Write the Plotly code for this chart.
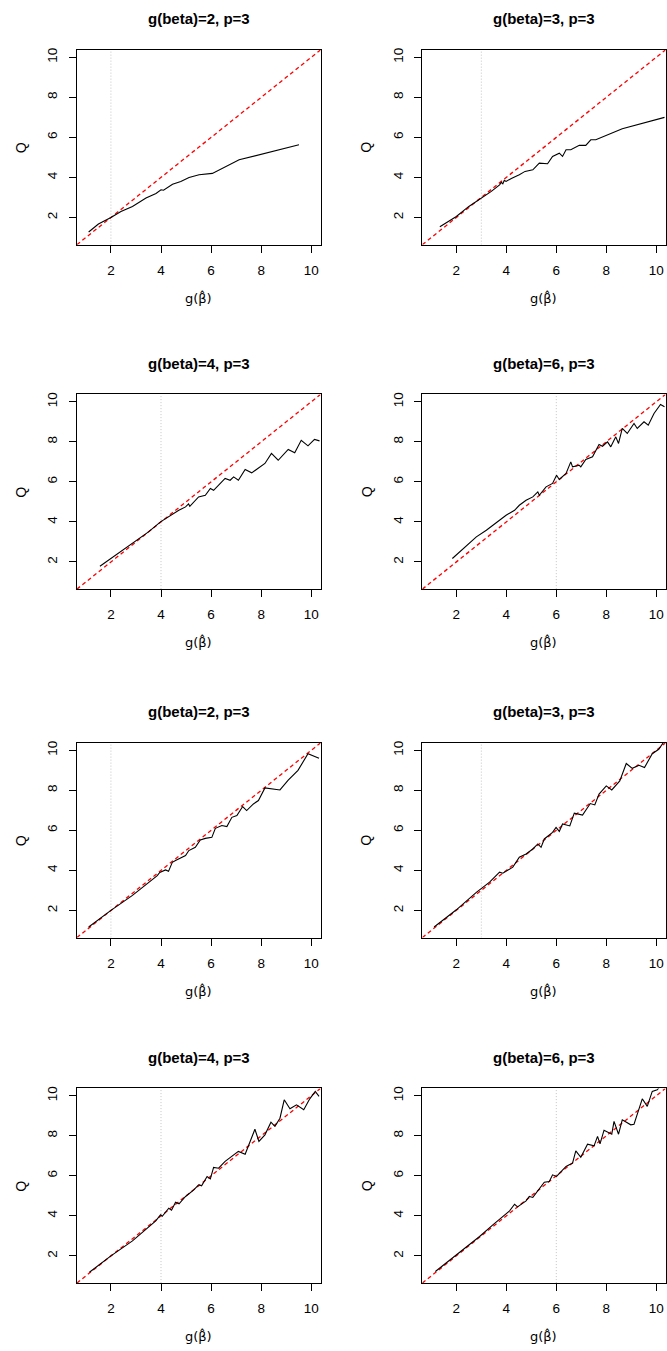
import plotly.graph_objects as go

# ---- data: estimated g(beta-hat) vs Q curves, one pair of arrays per panel ----
titles = ["g(beta)=2, p=3", "g(beta)=3, p=3", "g(beta)=4, p=3", "g(beta)=6, p=3",
          "g(beta)=2, p=3", "g(beta)=3, p=3", "g(beta)=4, p=3", "g(beta)=6, p=3"]
true_g = [2, 3, 4, 6, 2, 3, 4, 6]

x1 = [1.11, 1.5, 2.0, 2.4, 2.86, 3.4, 3.8, 3.95, 4.0, 4.1, 4.46, 4.79, 5.12, 5.52, 6.05, 7.12, 8.18, 9.51]
q1 = [1.27, 1.67, 2.0, 2.3, 2.55, 2.97, 3.2, 3.35, 3.38, 3.36, 3.66, 3.8, 4.0, 4.13, 4.2, 4.88, 5.21, 5.63]

x2 = [1.34, 2.0, 2.5, 3.0, 3.4, 3.73, 3.8, 3.86, 3.92, 3.99, 4.2, 4.52, 4.75, 5.06, 5.32, 5.65,
      5.85, 6.12, 6.25, 6.39, 6.58, 6.92, 7.18, 7.38, 7.58, 8.64, 10.33]
q2 = [1.53, 2.05, 2.55, 2.97, 3.3, 3.63, 3.75, 3.68, 3.85, 3.8, 3.95, 4.13, 4.3, 4.38, 4.71, 4.68,
      5.05, 5.21, 5.05, 5.38, 5.38, 5.6, 5.6, 5.88, 5.88, 6.43, 7.0]

x3 = [1.56, 2.0, 2.86, 3.5, 3.98, 4.4, 4.71, 4.98, 5.1, 5.15, 5.5, 5.77, 5.97, 6.1, 6.3, 6.56,
      6.76, 6.9, 7.09, 7.36, 7.62, 7.95, 8.15, 8.41, 8.68, 9.08, 9.34, 9.6, 9.87, 10.13, 10.33]
q3 = [1.78, 2.17, 2.92, 3.5, 4.0, 4.35, 4.58, 4.75, 4.9, 4.78, 5.25, 5.33, 5.67, 5.58, 5.83, 6.17,
      6.08, 6.25, 6.08, 6.62, 6.45, 6.75, 6.92, 7.42, 7.08, 7.62, 7.45, 8.08, 7.8, 8.12, 8.05]

x4 = [1.84, 2.4, 2.8, 3.2, 3.46, 3.73, 3.99, 4.33, 4.52, 4.79, 5.06, 5.26, 5.32, 5.59, 5.85,
      6.01, 6.12, 6.39, 6.58, 6.65, 6.92, 6.98, 7.18, 7.45, 7.71, 7.85, 8.05, 8.18, 8.38, 8.49,
      8.64, 8.84, 9.11, 9.24, 9.51, 9.68, 9.91, 10.17, 10.33]
q4 = [2.17, 2.83, 3.25, 3.58, 3.83, 4.08, 4.33, 4.58, 4.83, 5.08, 5.25, 5.5, 5.33, 5.75, 5.92,
      6.33, 6.12, 6.42, 7.0, 6.75, 6.83, 6.75, 7.12, 7.25, 7.87, 7.78, 8.0, 7.75, 8.25, 7.92,
      8.67, 8.42, 8.92, 8.67, 9.0, 8.83, 9.42, 9.87, 9.75]

x5 = [1.11, 2.0, 2.86, 3.52, 3.85, 3.95, 4.18, 4.3, 4.38, 4.45, 4.58, 4.98, 5.11, 5.37, 5.57,
      5.77, 6.03, 6.17, 6.43, 6.63, 6.83, 7.03, 7.26, 7.42, 7.69, 7.89, 8.15, 8.75, 9.08, 9.47,
      9.87, 10.31]
q5 = [1.17, 2.0, 2.75, 3.41, 3.74, 3.9, 4.02, 3.95, 4.24, 4.4, 4.49, 4.74, 4.99, 5.15, 5.52,
      5.6, 5.65, 6.1, 6.24, 6.19, 6.65, 6.74, 7.19, 6.99, 7.32, 7.49, 8.12, 8.02, 8.51, 9.0,
      9.83, 9.6]

x6 = [1.11, 2.0, 2.8, 3.33, 3.73, 3.86, 4.26, 4.52, 4.79, 5.06, 5.26, 5.39, 5.52, 5.85, 5.99,
      6.12, 6.25, 6.54, 6.72, 7.05, 7.36, 7.54, 7.71, 8.0, 8.22, 8.54, 8.8, 9.04, 9.31, 9.53,
      9.84, 10.1, 10.28]
q6 = [1.17, 2.03, 2.9, 3.41, 3.91, 3.86, 4.16, 4.66, 4.82, 5.07, 5.32, 5.15, 5.57, 5.9, 6.15,
      5.95, 6.32, 6.22, 6.86, 6.76, 7.34, 7.27, 7.81, 8.22, 8.02, 8.47, 9.34, 9.1, 9.25, 9.14,
      9.83, 10.05, 10.38]

x7 = [1.14, 2.0, 2.86, 3.39, 3.79, 3.98, 4.05, 4.31, 4.42, 4.58, 4.72, 4.98, 5.31, 5.5, 5.62,
      5.84, 5.97, 6.1, 6.3, 6.56, 6.76, 7.09, 7.36, 7.52, 7.75, 7.91, 8.15, 8.39, 8.55, 8.75,
      8.92, 9.15, 9.41, 9.7, 9.94, 10.16, 10.31]
q7 = [1.18, 2.0, 2.75, 3.3, 3.75, 4.05, 3.98, 4.38, 4.28, 4.68, 4.6, 4.97, 5.3, 5.55, 5.5,
      5.97, 5.85, 6.42, 6.38, 6.72, 6.92, 7.22, 7.08, 7.63, 8.33, 7.72, 8.05, 8.68, 8.47, 8.88,
      9.8, 9.35, 9.55, 9.3, 9.85, 10.22, 9.97]

x8 = [1.16, 2.0, 2.4, 2.93, 3.46, 3.86, 4.13, 4.33, 4.45, 4.79, 4.92, 5.06, 5.32, 5.52, 5.72,
      5.85, 6.01, 6.39, 6.52, 6.65, 6.78, 6.98, 7.25, 7.51, 7.65, 7.75, 7.91, 8.22, 8.31, 8.49,
      8.64, 8.98, 9.11, 9.44, 9.64, 9.84, 10.04, 10.15]
q8 = [1.22, 2.05, 2.47, 2.97, 3.55, 3.97, 4.25, 4.58, 4.45, 4.75, 4.97, 4.92, 5.38, 5.68, 5.72,
      6.05, 5.97, 6.47, 6.55, 6.63, 7.25, 6.93, 7.58, 7.5, 7.97, 7.6, 8.28, 8.08, 8.72, 8.08,
      8.8, 8.55, 8.58, 9.85, 9.47, 10.22, 10.3, 10.47]

xs = [x1, x2, x3, x4, x5, x6, x7, x8]
qs = [q1, q2, q3, q4, q5, q6, q7, q8]

tick_vals = [2, 4, 6, 8, 10]
axis_range = [0.64, 10.37]
x_label = "g(\u03b2\u0302)"   # g(beta-hat) with a combining circumflex

# ---- layout geometry (pixels) ----
W, H = 667, 1351
col_left = [77, 423]
col_right = [321, 666.5]
row_top = [48, 393, 742, 1088]
panel_h = 195

FONT = "Liberation Sans, Arial, Helvetica, sans-serif"
LABEL_FONT = "DejaVu Sans, Liberation Sans, sans-serif"

fig = go.Figure()
annotations = []

for i in range(8):
    r, c = divmod(i, 2)
    n = i + 1
    xa = "xaxis" if n == 1 else f"xaxis{n}"
    ya = "yaxis" if n == 1 else f"yaxis{n}"
    xr = "x" if n == 1 else f"x{n}"
    yr = "y" if n == 1 else f"y{n}"

    x0, x1p = col_left[c], col_right[c]
    y0, y1p = row_top[r], row_top[r] + panel_h

    common = dict(
        range=axis_range, showgrid=False, zeroline=False,
        showline=True, mirror=True, linecolor="black", linewidth=1,
        ticks="outside", ticklen=7, tickwidth=1, tickcolor="black",
        tickvals=tick_vals, ticktext=[str(v) for v in tick_vals],
        tickfont=dict(family=FONT, size=13.5, color="black"),
    )
    fig.update_layout(**{
        xa: dict(domain=[x0 / W, x1p / W], anchor=yr, ticklabelstandoff=6, **common),
        ya: dict(domain=[1 - y1p / H, 1 - y0 / H], anchor=xr, tickangle=-90,
                 ticklabelstandoff=6, **common),
    })

    # vertical reference at the true g(beta)
    g = true_g[i]
    fig.add_trace(go.Scatter(x=[g, g], y=axis_range, xaxis=xr, yaxis=yr, mode="lines",
                             line=dict(color="#c4c4c4", width=1, dash="1px,2px"),
                             hoverinfo="skip", showlegend=False))
    # identity line
    fig.add_trace(go.Scatter(x=axis_range, y=axis_range, xaxis=xr, yaxis=yr, mode="lines",
                             line=dict(color="#ff0000", width=1.3, dash="4px,3px"),
                             hoverinfo="skip", showlegend=False))
    # estimated curve
    fig.add_trace(go.Scatter(x=xs[i], y=qs[i], xaxis=xr, yaxis=yr, mode="lines",
                             line=dict(color="black", width=1.1),
                             showlegend=False))

    cx = (x0 + x1p) / 2
    cy = (y0 + y1p) / 2
    annotations.append(dict(text=f"<b>{titles[i]}</b>", x=cx / W, y=1 - (y0 - 31) / H,
                            xref="paper", yref="paper", showarrow=False,
                            xanchor="center", yanchor="middle",
                            font=dict(family=FONT, size=15, color="black")))
    annotations.append(dict(text=x_label, x=cx / W, y=1 - (y1p + 53) / H,
                            xref="paper", yref="paper", showarrow=False,
                            xanchor="center", yanchor="middle",
                            font=dict(family=LABEL_FONT, size=13, color="black")))
    annotations.append(dict(text="Q", x=(x0 - 56) / W, y=1 - cy / H,
                            xref="paper", yref="paper", showarrow=False, textangle=-90,
                            xanchor="center", yanchor="middle",
                            font=dict(family=FONT, size=14, color="black")))

fig.update_layout(width=W, height=H, margin=dict(l=0, r=0, t=0, b=0),
                  paper_bgcolor="white", plot_bgcolor="white",
                  annotations=annotations, showlegend=False)

fig.write_html("out.html")
